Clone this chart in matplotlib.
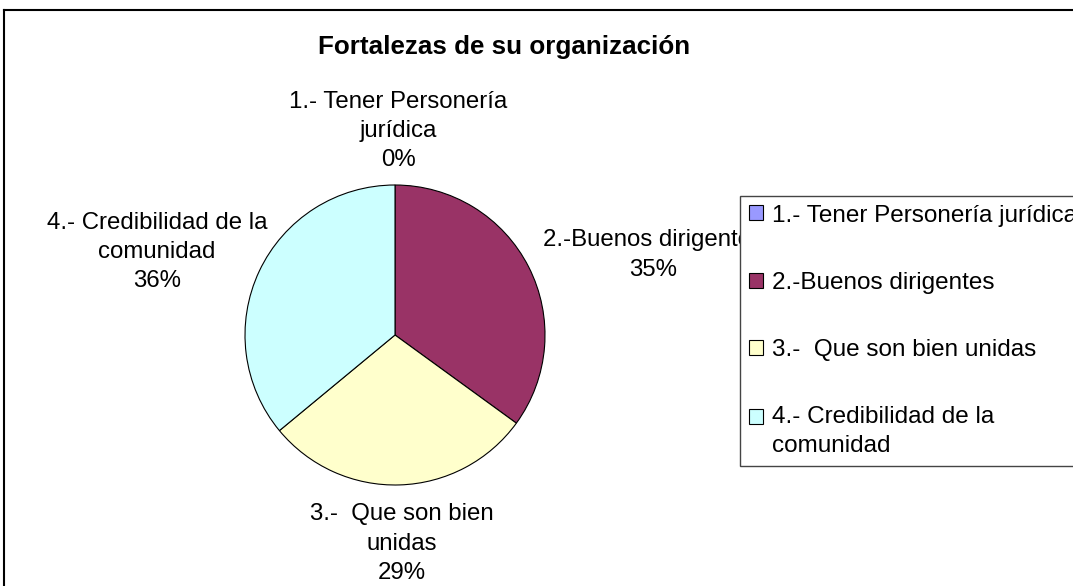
import matplotlib
matplotlib.use("Agg")
import matplotlib.pyplot as plt
from matplotlib.lines import Line2D
from matplotlib.patches import Rectangle
from matplotlib.legend_handler import HandlerPatch

plt.rcParams['font.family'] = ['Liberation Sans', 'DejaVu Sans']

categories = ['1.- Tener Personería jurídica', '2.-Buenos dirigentes',
              '3.-  Que son bien unidas', '4.- Credibilidad de la comunidad']
legend_labels = ['1.- Tener Personería jurídica', '2.-Buenos dirigentes',
                 '3.-  Que son bien unidas', '4.- Credibilidad de la\ncomunidad']
slice_labels = ['1.- Tener Personería\njurídica', '2.-Buenos dirigentes',
                '3.-  Que son bien\nunidas', '4.- Credibilidad de la\ncomunidad']
values = [0, 35, 29, 36]
colors = ['#9999FF', '#993366', '#FFFFCC', '#CCFFFF']

W, H = 1073, 586
fig = plt.figure(figsize=(W / 100, H / 100), dpi=100)

# pie area in pixels: center (395, 335), radius 150
cx, cy, r = 395, 335, 150
ax = fig.add_axes([(cx - r) / W, (H - cy - r) / H, 2 * r / W, 2 * r / H])
wedges, _ = ax.pie(values, colors=colors, startangle=90, counterclock=False,
                   radius=1, wedgeprops=dict(edgecolor='black', linewidth=0.8))
ax.set_xlim(-1, 1)
ax.set_ylim(-1, 1)
ax.set_aspect('equal')
ax.axis('off')

# label positions (data units, relative to pie radius)
label_pos = [(0.02, 1.36), (1.72, 0.533), (0.047, -1.39), (-1.587, 0.553)]
total = sum(values)
for lab, v, (lx, ly) in zip(slice_labels, values, label_pos):
    ax.text(lx, ly, f"{lab}\n{round(100 * v / total)}%", ha='center', va='center',
            fontsize=17.3, linespacing=1.42, clip_on=False)

fig.text(504 / W, 1 - 47 / H, 'Fortalezas de su organización', ha='center',
         va='center', fontsize=18.7, fontweight='bold')


# two-line legend entry: keep the swatch next to the first line
def raised_box(legend, orig_handle, xdescent, ydescent, width, height, fontsize):
    return Rectangle((-xdescent, -ydescent + 0.62 * fontsize), width, height)


leg = fig.legend(wedges, legend_labels, loc='upper left',
                 bbox_to_anchor=(740 / W, 1 - 196 / H), borderaxespad=0,
                 fontsize=17.5, frameon=True, fancybox=False, edgecolor='#444444',
                 framealpha=1, handlelength=0.58, handleheight=0.58,
                 handletextpad=0.37, borderpad=0.35, labelspacing=1.86,
                 handler_map={wedges[3]: HandlerPatch(patch_func=raised_box)})
leg.get_frame().set_linewidth(1.0)
for t in leg.get_texts():
    t.set_linespacing(1.42)

# outer chart border (partially cropped)
fig.add_artist(Line2D([4 / W, 1], [1 - 10 / H, 1 - 10 / H], color='black', lw=1.5))
fig.add_artist(Line2D([4 / W, 4 / W], [0, 1 - 10 / H], color='black', lw=1.5))

fig.savefig('out.png', dpi=100)
